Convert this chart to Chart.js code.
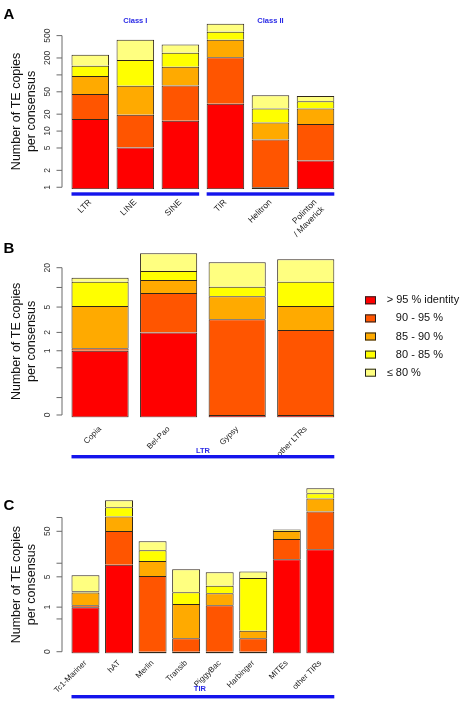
<!DOCTYPE html>
<html><head><meta charset="utf-8">
<script src="https://cdn.jsdelivr.net/npm/chart.js@4.4.1/dist/chart.umd.min.js"></script>
<style>
html,body{margin:0;padding:0;background:#fff;}
#wrap{position:relative;width:470px;height:702px;overflow:hidden;background:#fff;}
.panel{position:absolute;left:0;width:470px;}
canvas{display:block;}
</style></head><body>
<div id="wrap">
  <div class="panel" style="top:0;height:250px"><canvas id="cA" width="470" height="250"></canvas></div>
  <div class="panel" style="top:235px;height:245px"><canvas id="cB" width="470" height="245"></canvas></div>
  <div class="panel" style="top:465px;height:237px"><canvas id="cC" width="470" height="237"></canvas></div>
</div>
<script>
// ---------------- DATA ----------------
const identityLabels = ['> 95 % identity', '   90 - 95 %', '   85 - 90 %', '   80 - 85 %', '\u2264 80 %'];
const identityColors = ['#FF0000', '#FF5500', '#FFAA00', '#FFFF00', '#FFFF80'];

// Panel A (mean number of copies per consensus, by identity class)
const catsA = ['LTR', 'LINE', 'SINE', 'TIR', 'Helitron', ['Polinton', '/ Maverick']];
const A_gt95  = [16.4, 5.1, 15.3, 30.7, 1.0, 3.0];
const A_90_95 = [29.4, 14.4, 49.7, 175.3, 6.1, 10.3];
const A_85_90 = [50.2, 44.5, 74, 216, 7.1, 12.0];
const A_80_85 = [49, 121, 108, 164, 11.1, 8.5];
const A_le80  = [83, 237, 100, 228, 17.9, 8.4];
const ticksA  = [1, 2, 5, 10, 20, 50, 100, 200, 500];
const labelsA = [1, 2, 5, 10, 20, 50, 200, 500];
const groupsA = [{from: 0, to: 2, text: 'Class I'}, {from: 3, to: 5, text: 'Class II'}];

// Panel B (LTR superfamilies)
const catsB = ['Copia', 'Bel-Pao', 'Gypsy', 'other LTRs'];
const B_gt95  = [1.0, 2.0, 0, 0];
const B_90_95 = [0.1, 6.2, 3.23, 2.19];
const B_85_90 = [4.1, 4.8, 4.1, 3.0];
const B_80_85 = [7.0, 4.8, 2.95, 7.06];
const B_le80  = [1.9, 15.3, 13.9, 14.6];
const ticksB  = [0, 0.1, 0.5, 1, 2, 5, 10, 20];
const labelsB = [0, 1, 2, 5, 20];
const groupsB = [{from: 0, to: 3, text: 'LTR'}];

// Panel C (TIR superfamilies)
const catsC = ['Tc1-Mariner', 'hAT', 'Merlin', 'Transib', 'PiggyBac', 'Harbinger', 'MITEs', 'other TIRs'];
const C_gt95  = [1.0, 9.2, 0, 0, 0, 0, 12.3, 20.3];
const C_90_95 = [0.11, 41.8, 5.2, 0.115, 1.11, 0.115, 21.5, 114.2];
const C_85_90 = [1.09, 53.6, 6.0, 1.075, 1.01, 0.109, 17.2, 123.5];
const C_80_85 = [0.15, 63.3, 8.1, 1.06, 1.05, 4.47, 1.5, 81];
const C_le80  = [3.07, 70.9, 11.1, 5.15, 3.15, 1.83, 2.0, 96];
const ticksC  = [0, 0.5, 1, 5, 10, 50, 100];
const labelsC = [0, 1, 5, 50];
const groupsC = [{from: 0, to: 7, text: 'TIR'}];

// ---------------- custom shifted-log scale ----------------
class ShiftLogScale extends Chart.Scale {
  determineDataLimits() { this.min = this.options.min; this.max = this.options.max; }
  buildTicks() { return (this.options.tickValues || []).map(v => ({value: v})); }
  getLabelForValue(v) { return String(v); }
  _t(v) { return Math.log10(v + (this.options.shift || 0)); }
  configure() {
    super.configure();
    this._s0 = this._t(this.min);
    this._rng = this._t(this.max) - this._s0;
  }
  getPixelForValue(v) { return this.getPixelForDecimal((this._t(v) - this._s0) / this._rng); }
  getValueForPixel(p) { return Math.pow(10, this._s0 + this.getDecimalForPixel(p) * this._rng) - (this.options.shift || 0); }
  getBasePixel() { return this.getPixelForValue(this.min); }
}
ShiftLogScale.id = 'shiftlog';
ShiftLogScale.defaults = {};
Chart.register(ShiftLogScale);

const FONT = '"Liberation Sans", Arial, Helvetica, sans-serif';
const BLUE = '#1414ec';

// ---------------- R-style axis / annotation plugin ----------------
const rPlot = {
  id: 'rPlot',
  afterDraw(chart, args, o) {
    const ctx = chart.ctx, y = chart.scales.y;
    ctx.save();
    const p0 = y.getPixelForValue(o.ticks[0]);
    const p1 = y.getPixelForValue(o.ticks[o.ticks.length - 1]);
    ctx.strokeStyle = '#6a6a6a'; ctx.lineWidth = 1;
    ctx.beginPath();
    ctx.moveTo(o.axisX + 0.5, p0); ctx.lineTo(o.axisX + 0.5, p1);
    o.ticks.forEach(t => {
      const p = y.getPixelForValue(t);
      ctx.moveTo(o.axisX + 0.5, p); ctx.lineTo(o.axisX - 5, p);
    });
    ctx.stroke();
    ctx.fillStyle = '#333';
    ctx.font = '8.5px ' + FONT;
    ctx.textAlign = 'center'; ctx.textBaseline = 'middle';
    o.labels.forEach(t => {
      const p = y.getPixelForValue(t);
      ctx.save(); ctx.translate(o.axisX - 14, p); ctx.rotate(-Math.PI / 2);
      ctx.fillText(String(t), 0, 0); ctx.restore();
    });
    const mid = (p0 + p1) / 2;
    ctx.fillStyle = '#111';
    ctx.font = '12.5px ' + FONT;
    [['Number of TE copies', 17], ['per consensus', 31.5]].forEach(([s, cx]) => {
      ctx.save(); ctx.translate(cx, mid); ctx.rotate(-Math.PI / 2);
      ctx.fillText(s, 0, 0); ctx.restore();
    });
    ctx.fillStyle = '#000';
    ctx.font = 'bold 15px ' + FONT;
    ctx.textAlign = 'left'; ctx.textBaseline = 'alphabetic';
    ctx.fillText(o.letter, 3.5, o.letterY);
    const meta = chart.getDatasetMeta(0);
    o.groups.forEach(g => {
      const b0 = meta.data[g.from], b1 = meta.data[g.to];
      const xl = b0.x - b0.width / 2, xr = b1.x + b1.width / 2;
      ctx.fillStyle = BLUE;
      ctx.fillRect(xl, o.barY, xr - xl, 3.4);
      ctx.fillStyle = '#2a2ae6';
      ctx.font = 'bold 7.5px ' + FONT;
      ctx.textAlign = 'center'; ctx.textBaseline = 'middle';
      ctx.fillText(g.text, (b0.x + b1.x) / 2 + (o.textDX || 0), o.textY);
    });
    if (o.legend) {
      const L = o.legend;
      chart.data.datasets.forEach((ds, i) => {
        const cy = L.y + i * L.dy;
        ctx.fillStyle = ds.backgroundColor;
        ctx.fillRect(L.x, cy - 4, 11, 8);
        ctx.strokeStyle = '#222'; ctx.lineWidth = 1;
        ctx.strokeRect(L.x + 0.5, cy - 3.5, 10, 7);
        ctx.fillStyle = '#111';
        ctx.font = '11px ' + FONT;
        ctx.textAlign = 'left'; ctx.textBaseline = 'middle';
        ctx.fillText(ds.label, L.tx, cy);
      });
    }
    ctx.restore();
  }
};

function makePanel(id, cats, series, cfg) {
  const canvasH = document.getElementById(id).height;
  const barsLeft = 71.5, barsRight = 334.3;
  const n = cats.length;
  const bw = (barsRight - barsLeft) / (n * 1.2 - 0.2);
  const left = barsLeft - 0.1 * bw, right = barsRight + 0.1 * bw;
  const xH = canvasH - cfg.bottom;
  return new Chart(document.getElementById(id), {
    type: 'bar',
    data: {
      labels: cats,
      datasets: series.map((d, i) => {
        const ds = {
          label: identityLabels[i], data: d,
          backgroundColor: identityColors[i],
          borderColor: 'rgba(25,15,0,0.9)',
          borderWidth: {top: 1, left: 1, right: 1, bottom: i === 0 ? 1 : 0},
          borderSkipped: false,
          barPercentage: 1 / 1.2, categoryPercentage: 1
        };
        if (i === 0) ds.base = cfg.base;
        return ds;
      })
    },
    options: {
      responsive: false, animation: false, devicePixelRatio: 1,
      layout: {padding: {left: left, right: 470 - right, top: cfg.top, bottom: 0}},
      plugins: {
        legend: {display: false}, tooltip: {enabled: false},
        rPlot: {ticks: cfg.ticks, labels: cfg.labels, axisX: 61.5, letter: cfg.letter, letterY: cfg.letterY,
                groups: cfg.groups, barY: cfg.barY, textY: cfg.textY, textDX: cfg.textDX, legend: cfg.legend}
      },
      scales: {
        x: {
          stacked: true, offset: true,
          grid: {display: false}, border: {display: false},
          ticks: {autoSkip: false, minRotation: 45, maxRotation: 45, padding: cfg.xPad,
                  color: '#222', font: {family: FONT, size: cfg.xFont}},
          afterFit: s => { s.height = xH; }
        },
        y: {
          type: 'shiftlog', stacked: true, display: false,
          min: cfg.min, max: cfg.max, shift: cfg.shift, tickValues: cfg.ticks
        }
      }
    },
    plugins: [rPlot]
  });
}

makePanel('cA', catsA, [A_gt95, A_90_95, A_85_90, A_80_85, A_le80], {
  min: 0.92, max: 960, shift: 0, base: 0.92, top: 19.7, bottom: 189.3,
  ticks: ticksA, labels: labelsA, letter: 'A', letterY: 18.5,
  groups: groupsA, barY: 192.3, textY: 20.5, xPad: 0, xFont: 8.5
});
makePanel('cB', catsB, [B_gt95, B_90_95, B_85_90, B_80_85, B_le80], {
  min: -0.01, max: 40, shift: 0.12, base: -0.01, top: 12.85, bottom: 182.5,
  ticks: ticksB, labels: labelsB, letter: 'B', letterY: 17.7,
  groups: groupsB, barY: 220, textY: 215.5, xPad: -1, xFont: 8,
  legend: {x: 365, tx: 386.7, y: 65.3, dy: 18.1}
});
makePanel('cC', catsC, [C_gt95, C_90_95, C_85_90, C_80_85, C_le80], {
  min: -0.01, max: 548, shift: 0.12, base: -0.01, top: 18.57, bottom: 188.44,
  ticks: ticksC, labels: labelsC, letter: 'C', letterY: 45,
  groups: groupsC, barY: 230, textY: 224, textDX: -3, xPad: -3, xFont: 8
});
</script>
</body></html>
